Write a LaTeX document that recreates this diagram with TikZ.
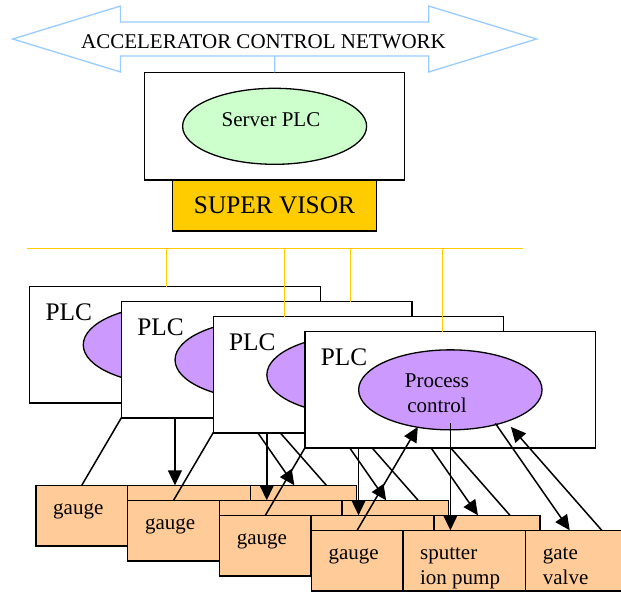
\documentclass[tikz,border=0pt]{standalone}
\usepackage{fontspec}
\setmainfont{Liberation Serif}
\usetikzlibrary{arrows.meta,positioning,calc,shapes.geometric,shapes.arrows}

\definecolor{netblue}{HTML}{99CCFF}
\definecolor{srvgreen}{HTML}{CCFFCC}
\definecolor{supgold}{HTML}{FFCC00}
\definecolor{procpurple}{HTML}{CC99FF}
\definecolor{devorange}{HTML}{FFCC99}

\newcommand{\txtsize}{\fontsize{21}{25.2}\selectfont}
\newcommand{\bigsize}{\fontsize{25.3}{30.4}\selectfont}

\tikzset{
  box/.style={draw=black, fill=white, line width=1.3pt, inner sep=0pt, outer sep=0pt},
  plcbox/.style={box, anchor=north west, minimum width=290.5pt, minimum height=116.3pt},
  proc/.style={shape=ellipse, draw=black, fill=procpurple, line width=1.3pt, inner sep=0pt, outer sep=0pt, minimum width=183.4pt, minimum height=80pt},
  plctxt/.style={font=\bigsize, inner sep=0pt},
  dev/.style={box, fill=devorange, minimum height=60.7pt},
  devtxt/.style={anchor=north west, align=left, inner sep=0pt, xshift=17pt, yshift=-11pt, font=\txtsize},
  gaugebox/.style={dev, anchor=north west, minimum width=91.5pt, label={[devtxt]north west:\strut gauge}},
  pumpbox/.style={dev, minimum width=122.8pt, label={[devtxt]north west:{\strut sputter\\ion pump}}},
  valvebox/.style={dev, minimum width=106.1pt, label={[devtxt]north west:{\strut gate\\valve}}},
  conn/.style={line width=1.5pt, -{Triangle[length=15pt,width=14pt]}},
  bus/.style={draw=supgold, line width=1.3pt},
  net/.style={draw=netblue, line width=1.3pt}
}

\begin{document}
\begin{tikzpicture}[x=1pt, y=-1pt]
\useasboundingbox (0,0) rectangle (621,592);
\clip (0,0) rectangle (621,592);

\node[net, shape=double arrow, fill=white, double arrow tip angle=34, double arrow head extend=16pt, minimum height=523.9pt, inner xsep=0pt, inner ysep=16.3pt, outer sep=0pt] (net) at (274.65,39) {};
\node[font=\txtsize, inner sep=0pt] (nettxt) at (263.5,41.3) {ACCELERATOR CONTROL NETWORK};
\node[box, minimum width=260.2pt, minimum height=107.7pt] (srv) at (274.7,126.15) {};
\draw[net] (net.south) -- (srv.north);
\node[shape=ellipse, draw=black, fill=srvgreen, line width=1.3pt, inner sep=0pt, outer sep=0pt, minimum width=184pt, minimum height=76pt] (spl) at (274.6,126.3) {};
\node[font=\txtsize, inner sep=0pt] (spltxt) at (271,119.2) {Server PLC};
\node[box, fill=supgold, minimum width=203.5pt, minimum height=51pt, font=\bigsize] (sup) at (274.45,205.5) {SUPER VISOR\hspace{9.4pt}};

\coordinate (busl) at (26.5,248.3);
\coordinate (busr) at (522.8,248.3);
\draw[bus] (busl) -- (busr);

\node[plcbox] (plc1) at (29.7,286.7) {};
\node[proc] (pc1) at (plc1.center) {};
\node[plctxt] (lbl1) at ($(plc1.north west)+(39,25.3)$) {PLC};
\node[gaugebox] (g1) at ($(plc1.north west)+(6.3,198.6)$) {};
\node[pumpbox, right=0pt of g1] (p1) {};
\node[valvebox, right=0pt of p1] (v1) {};
\draw[conn] (g1.north) -- ([xshift=-32.5pt,yshift=3pt]pc1.south);
\draw[conn] ([yshift=7pt]pc1.south) -- (pc1.south |- p1.north);
\draw[conn] ([xshift=45pt,yshift=6.5pt]pc1.south) -- ([xshift=-9pt]v1.north);
\draw[conn] ([xshift=23pt]v1.north) -- ([xshift=60.5pt,yshift=3pt]pc1.south);

\node[plcbox] (plc2) at (121.5,301.7) {};
\node[proc] (pc2) at (plc2.center) {};
\node[plctxt] (lbl2) at ($(plc2.north west)+(39,25.3)$) {PLC};
\node[gaugebox] (g2) at ($(plc2.north west)+(6.3,198.6)$) {};
\node[pumpbox, right=0pt of g2] (p2) {};
\node[valvebox, right=0pt of p2] (v2) {};
\draw[conn] (g2.north) -- ([xshift=-32.5pt,yshift=3pt]pc2.south);
\draw[conn] ([yshift=7pt]pc2.south) -- (pc2.south |- p2.north);
\draw[conn] ([xshift=45pt,yshift=6.5pt]pc2.south) -- ([xshift=-9pt]v2.north);
\draw[conn] ([xshift=23pt]v2.north) -- ([xshift=60.5pt,yshift=3pt]pc2.south);

\node[plcbox] (plc3) at (213.3,316.7) {};
\node[proc] (pc3) at (plc3.center) {};
\node[plctxt] (lbl3) at ($(plc3.north west)+(39,25.3)$) {PLC};
\node[gaugebox] (g3) at ($(plc3.north west)+(6.3,198.6)$) {};
\node[pumpbox, right=0pt of g3] (p3) {};
\node[valvebox, right=0pt of p3] (v3) {};
\draw[conn] (g3.north) -- ([xshift=-32.5pt,yshift=3pt]pc3.south);
\draw[conn] ([yshift=7pt]pc3.south) -- (pc3.south |- p3.north);
\draw[conn] ([xshift=45pt,yshift=6.5pt]pc3.south) -- ([xshift=-9pt]v3.north);
\draw[conn] ([xshift=23pt]v3.north) -- ([xshift=60.5pt,yshift=3pt]pc3.south);

\node[plcbox] (plc4) at (305.1,331.7) {};
\node[proc] (pc4) at (plc4.center) {};
\node[plctxt] (lbl4) at ($(plc4.north west)+(39,25.3)$) {PLC};
\node[font=\txtsize, align=center, inner sep=0pt] (pctxt) at (437,393) {Process\\control};
\node[gaugebox] (g4) at ($(plc4.north west)+(6.3,198.6)$) {};
\node[pumpbox, right=0pt of g4] (p4) {};
\node[valvebox, right=0pt of p4] (v4) {};
\draw[conn] (g4.north) -- ([xshift=-32.5pt,yshift=3pt]pc4.south);
\draw[conn] ([yshift=7pt]pc4.south) -- (pc4.south |- p4.north);
\draw[conn] ([xshift=45pt,yshift=6.5pt]pc4.south) -- ([xshift=-9pt]v4.north);
\draw[conn] ([xshift=23pt]v4.north) -- ([xshift=60.5pt,yshift=3pt]pc4.south);

\coordinate (b1) at (166.7,248.3);
\coordinate (b2) at (350.5,248.3);
\coordinate (b3) at (284.4,248.3);
\coordinate (b4) at (442.4,248.3);
\draw[bus] (b1) -- (b1 |- plc1.north);
\draw[bus] (b2) -- (b2 |- plc2.north);
\draw[bus] (b3) -- (b3 |- plc3.north);
\draw[bus] (b4) -- (b4 |- plc4.north);
\end{tikzpicture}
\end{document}
